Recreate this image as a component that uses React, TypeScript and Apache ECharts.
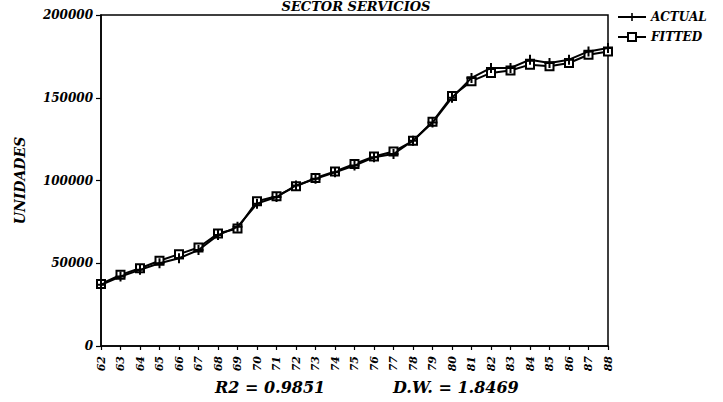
import React, { useEffect, useRef } from "react";
import * as echarts from "echarts";

const years = ["62","63","64","65","66","67","68","69","70","71","72","73","74","75","76","77","78","79","80","81","82","83","84","85","86","87","88"];
const actual = [37000, 42000, 46000, 50000, 53000, 58000, 67000, 72000, 86000, 90000, 97000, 101000, 105000, 109000, 114000, 116000, 124000, 135000, 150000, 162000, 168000, 168000, 173000, 171000, 173000, 178000, 180000];
const fitted = [37500, 43000, 47000, 51500, 55500, 59500, 68000, 71000, 87500, 90500, 96500, 101500, 105500, 110000, 114500, 117500, 124000, 135500, 151000, 160000, 165000, 166500, 170000, 169000, 171000, 176000, 178000];
const title = "SECTOR SERVICIOS";
const yName = "UNIDADES";
const statsR2 = "R2 = 0.9851";
const statsDW = "D.W. = 1.8469";

const FONT = "'DejaVu Serif', serif";
const PLUS = "path://M4,0h2v4h4v2h-4v4h-2v-4h-4v-2h4z";

export default function App() {
  const ref = useRef<HTMLDivElement>(null);
  useEffect(() => {
    const chart = echarts.init(ref.current!, null, { renderer: "svg" });
    chart.setOption({
      animation: false,
      backgroundColor: "#fff",
      grid: { left: 101, right: 115, top: 15, bottom: 56, show: true, borderColor: "#000", borderWidth: 1.5, backgroundColor: "transparent" },
      legend: {
        orient: "vertical",
        left: 612,
        top: 6,
        itemGap: 8,
        itemWidth: 28,
        itemHeight: 10,
        data: ["ACTUAL", "FITTED"],
        textStyle: { fontFamily: FONT, fontWeight: "bold", fontStyle: "italic", fontSize: 12, color: "#000" },
      },
      graphic: [
        { type: "text", x: 356, y: 0, style: { text: title, fontFamily: FONT, fontWeight: "bold", fontStyle: "italic", fontSize: 13, fill: "#000", align: "center", verticalAlign: "top" } },
        { type: "text", x: 215, y: 387, style: { text: statsR2, fontFamily: FONT, fontWeight: "bold", fontStyle: "italic", fontSize: 16, fill: "#000", align: "left", verticalAlign: "middle" } },
        { type: "text", x: 393, y: 387, style: { text: statsDW, fontFamily: FONT, fontWeight: "bold", fontStyle: "italic", fontSize: 16, fill: "#000", align: "left", verticalAlign: "middle" } },
      ],
      xAxis: {
        type: "category",
        data: years,
        boundaryGap: false,
        axisLine: { lineStyle: { color: "#000", width: 1.5 } },
        axisTick: { show: true, interval: 0, length: 4, lineStyle: { color: "#000", width: 1.2 } },
        axisLabel: { interval: 0, rotate: 90, color: "#000", fontFamily: FONT, fontWeight: "bold", fontStyle: "italic", fontSize: 11, margin: 10 },
        splitLine: { show: false },
      },
      yAxis: {
        type: "value",
        min: 0,
        max: 200000,
        interval: 50000,
        name: yName,
        nameLocation: "middle",
        nameGap: 74,
        nameTextStyle: { fontFamily: FONT, fontWeight: "bold", fontStyle: "italic", fontSize: 14, color: "#000" },
        axisLine: { show: true, lineStyle: { color: "#000", width: 1.5 } },
        axisTick: { show: true, length: 5, lineStyle: { color: "#000", width: 1.2 } },
        axisLabel: { color: "#000", fontFamily: FONT, fontWeight: "bold", fontStyle: "italic", fontSize: 12, margin: 8, formatter: (v: number) => String(v) },
        splitLine: { show: false },
      },
      series: [
        {
          name: "ACTUAL",
          type: "line",
          data: actual,
          z: 3,
          symbol: PLUS,
          symbolSize: 10,
          color: "#000",
          lineStyle: { color: "#000", width: 2 },
          itemStyle: { color: "#000" },
        },
        {
          name: "FITTED",
          type: "line",
          data: fitted,
          z: 2,
          symbol: "emptyRect",
          symbolSize: 8,
          color: "#000",
          lineStyle: { color: "#000", width: 2 },
          itemStyle: { color: "#000", borderWidth: 1.5 },
        },
      ],
    });
    return () => chart.dispose();
  }, []);
  return <div ref={ref} style={{ position: "fixed", left: 0, top: 0, width: 723, height: 402 }} />;
}
